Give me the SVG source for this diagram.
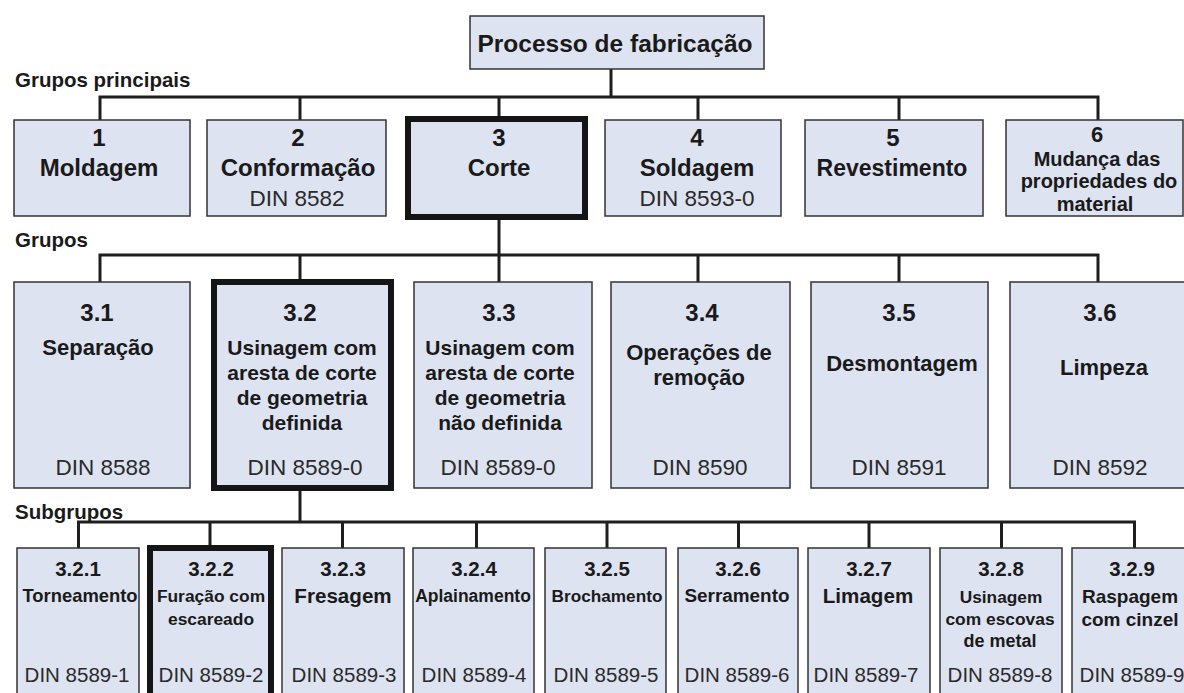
<svg xmlns="http://www.w3.org/2000/svg" width="1184" height="693" viewBox="0 0 1184 693">
<style>
.box{fill:#dee3f1;stroke:#333;stroke-width:1.5}
.sel{fill:#dee3f1;stroke:#151515;stroke-width:6}
.conn{stroke:#1e1e1e;stroke-width:3;fill:none;stroke-linecap:square}
text{font-family:"Liberation Sans",Arial,sans-serif;fill:#1a1a1a}
.t{text-anchor:middle;font-weight:bold}
.h{font-weight:bold;font-size:20.5px}
.n1{font-size:24px}
.din{text-anchor:middle;font-weight:normal;fill:#2a2a2a}
.d1{font-size:22.5px}
.d3{font-size:20.5px}
.n2{font-size:24px}
.l2{font-size:22px}
.n3{font-size:20.5px}
.m6{font-size:20px}
</style>
<rect width="1184" height="693" fill="#ffffff"/>
<g id="connectors">
<path class="conn" d="M611,69 V97 M100,97 H1098 M100,97 V120 M300,97 V120 M499,97 V116 M698,97 V120 M899,97 V120 M1098,97 V120"/>
<path class="conn" d="M499,220 V282 M100,255 H1098 M100,255 V282 M300,255 V279 M698,255 V282 M899,255 V282 M1098,255 V282"/>
<path class="conn" d="M300,491 V522 M78.5,522 H1134.5 M78.5,522 V548 M210,522 V545 M342.5,522 V548 M476.5,522 V548 M607,522 V548 M738.5,522 V548 M869,522 V548 M1001.5,522 V548 M1134.5,522 V548"/>
</g>
<g id="root"><rect class="box" x="470" y="16" width="294" height="53"/><text class="t" x="615" y="52" font-size="24.5">Processo de fabricação</text></g>
<text class="h" x="15" y="87">Grupos principais</text>
<text class="h" x="15" y="247">Grupos</text>
<text class="h" x="15" y="519">Subgrupos</text>

<g id="g1"><rect class="box" x="14" y="120" width="176" height="96"/><text class="t n1" x="99" y="146">1</text><text class="t n1" x="99" y="176">Moldagem</text></g>
<g id="g2"><rect class="box" x="207" y="120" width="179" height="96"/><text class="t n1" x="298" y="146">2</text><text class="t n1" x="298" y="176">Conformação</text><text class="din d1" x="297" y="206">DIN 8582</text></g>
<g id="g3"><rect class="sel" x="408" y="119" width="177" height="98"/><text class="t n1" x="499" y="146">3</text><text class="t n1" x="499" y="176">Corte</text></g>
<g id="g4"><rect class="box" x="605" y="120" width="176" height="96"/><text class="t n1" x="697" y="146">4</text><text class="t n1" x="697" y="176">Soldagem</text><text class="din d1" x="697" y="206">DIN 8593-0</text></g>
<g id="g5"><rect class="box" x="805" y="120" width="178" height="96"/><text class="t n1" x="893" y="146">5</text><text class="t" x="892" y="176" font-size="23px">Revestimento</text></g>
<g id="g6"><rect class="box" x="1006" y="120" width="177" height="96"/><text class="t" font-size="22px" x="1097" y="142">6</text><text class="t m6" x="1097" y="165.5">Mudança das</text><text class="t m6" x="1099" y="188">propriedades do</text><text class="t m6" x="1095" y="210.5">material</text></g>

<g id="g3_1"><rect class="box" x="14" y="282" width="176" height="206"/><text class="t n2" x="97" y="321">3.1</text><text class="t l2" x="98" y="355">Separação</text><text class="din d1" x="103" y="475">DIN 8588</text></g>
<g id="g3_2"><rect class="sel" x="214" y="282" width="177" height="206"/><text class="t n2" x="300" y="321">3.2</text><text class="t" font-size="21px" x="302" y="355">Usinagem com</text><text class="t" font-size="21px" x="302" y="380">aresta de corte</text><text class="t" font-size="21px" x="302" y="405">de geometria</text><text class="t" font-size="21px" x="302" y="430">definida</text><text class="din d1" x="305" y="475">DIN 8589-0</text></g>
<g id="g3_3"><rect class="box" x="414" y="282" width="178" height="206"/><text class="t n2" x="499" y="321">3.3</text><text class="t" font-size="21px" x="500" y="355">Usinagem com</text><text class="t" font-size="21px" x="500" y="380">aresta de corte</text><text class="t" font-size="21px" x="500" y="405">de geometria</text><text class="t" font-size="21px" x="500" y="430">não definida</text><text class="din d1" x="498" y="475">DIN 8589-0</text></g>
<g id="g3_4"><rect class="box" x="611" y="282" width="179" height="206"/><text class="t n2" x="702" y="321">3.4</text><text class="t l2" x="699" y="360">Operações de</text><text class="t l2" x="699" y="385">remoção</text><text class="din d1" x="700" y="475">DIN 8590</text></g>
<g id="g3_5"><rect class="box" x="811" y="282" width="177" height="206"/><text class="t n2" x="899" y="321">3.5</text><text class="t l2" x="902" y="371">Desmontagem</text><text class="din d1" x="899" y="475">DIN 8591</text></g>
<g id="g3_6"><rect class="box" x="1010" y="282" width="178" height="206"/><text class="t n2" x="1100" y="321">3.6</text><text class="t l2" x="1104" y="375">Limpeza</text><text class="din d1" x="1100" y="475">DIN 8592</text></g>

<g id="g3_2_1"><rect class="box" x="17" y="548" width="122" height="160"/><text class="t n3" x="78" y="576">3.2.1</text><text class="t" font-size="18.4px" x="80" y="602">Torneamento</text><text class="din d3" x="77" y="682">DIN 8589-1</text></g>
<g id="g3_2_2"><rect class="sel" x="150" y="548" width="121" height="160"/><text class="t n3" x="211" y="576">3.2.2</text><text class="t" font-size="17.4px" x="211" y="602">Furação com</text><text class="t" font-size="17.4px" x="211" y="625">escareado</text><text class="din d3" x="211" y="682">DIN 8589-2</text></g>
<g id="g3_2_3"><rect class="box" x="282" y="548" width="122" height="160"/><text class="t n3" x="343" y="576">3.2.3</text><text class="t" font-size="20.6px" x="343" y="603">Fresagem</text><text class="din d3" x="344" y="682">DIN 8589-3</text></g>
<g id="g3_2_4"><rect class="box" x="413" y="548" width="121" height="160"/><text class="t n3" x="474" y="576">3.2.4</text><text class="t" font-size="17.5px" x="473" y="602">Aplainamento</text><text class="din d3" x="474" y="682">DIN 8589-4</text></g>
<g id="g3_2_5"><rect class="box" x="545" y="548" width="121" height="160"/><text class="t n3" x="607" y="576">3.2.5</text><text class="t" font-size="17.2px" x="607" y="602">Brochamento</text><text class="din d3" x="606" y="682">DIN 8589-5</text></g>
<g id="g3_2_6"><rect class="box" x="678" y="548" width="120" height="160"/><text class="t n3" x="738" y="576">3.2.6</text><text class="t" font-size="18.9px" x="737" y="602">Serramento</text><text class="din d3" x="737" y="682">DIN 8589-6</text></g>
<g id="g3_2_7"><rect class="box" x="808" y="548" width="122" height="160"/><text class="t n3" x="869" y="576">3.2.7</text><text class="t" font-size="20.6px" x="868" y="603">Limagem</text><text class="din d3" x="866" y="682">DIN 8589-7</text></g>
<g id="g3_2_8"><rect class="box" x="940" y="548" width="122" height="160"/><text class="t n3" x="1001" y="576">3.2.8</text><text class="t" font-size="17.3px" x="1001" y="603">Usinagem</text><text class="t" font-size="17.4px" x="1000" y="624.5">com escovas</text><text class="t" font-size="18px" x="1000" y="646.5">de metal</text><text class="din d3" x="1000" y="682">DIN 8589-8</text></g>
<g id="g3_2_9"><rect class="box" x="1072" y="548" width="122" height="160"/><text class="t n3" x="1132" y="576">3.2.9</text><text class="t" font-size="19px" x="1130" y="603">Raspagem</text><text class="t" font-size="19px" x="1130" y="626">com cinzel</text><text class="din d3" x="1132" y="682">DIN 8589-9</text></g>
</svg>
